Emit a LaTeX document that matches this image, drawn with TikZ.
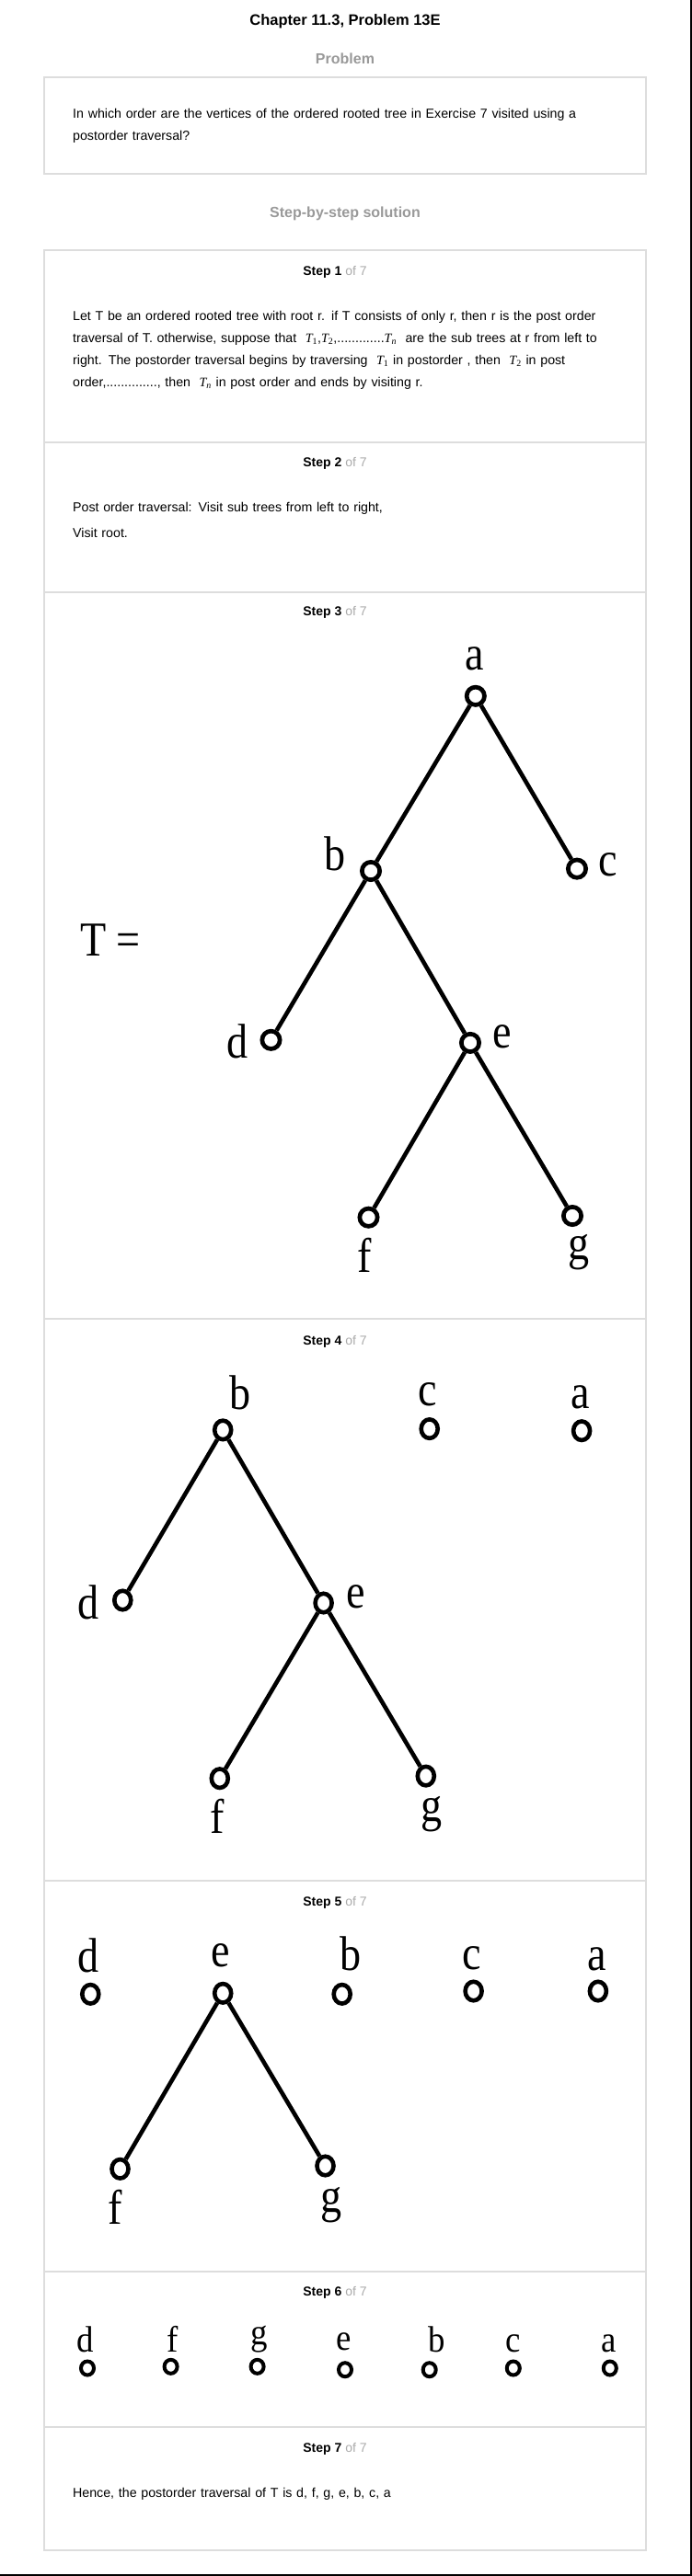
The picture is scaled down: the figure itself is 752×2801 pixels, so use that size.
\documentclass[tikz,border=0pt]{standalone}
\usepackage{fontspec}
\setmainfont{Liberation Sans}
\newfontfamily\timesrm{Liberation Serif}
\newfontfamily\treefont[FakeStretch=0.87]{Liberation Serif}
\newfontfamily\smalltree[FakeStretch=0.92]{Liberation Serif}
\usetikzlibrary{shapes.geometric}
\definecolor{boxgray}{HTML}{DDDDDD}
\definecolor{headgray}{HTML}{999999}
\definecolor{ofgray}{HTML}{AAAAAA}
\newcommand{\stepof}[1]{\textbf{Step #1} \textcolor{ofgray}{of 7}}
\newcommand{\Tsub}[1]{{\timesrm\itshape T}\textsubscript{\timesrm #1}}
\begin{document}
\begin{tikzpicture}[x=1pt,y=-1pt,
  panel/.style={draw=boxgray,line width=1.2pt},
  head/.style={anchor=base,inner sep=0,font=\bfseries\fontsize{16.5}{20}\selectfont},
  subhead/.style={anchor=base,inner sep=0,text=headgray,font=\bfseries\fontsize{16}{20}\selectfont},
  steplbl/.style={anchor=base,inner sep=0,font=\fontsize{14}{16}\selectfont},
  body/.style={anchor=base west,inner sep=0,text width=640pt,align=left,font=\fontsize{14.2}{24}\selectfont},
  vtx/.style={circle,draw,line width=4.7pt,minimum size=19.3pt,inner sep=0},
  ovx/.style={ellipse,draw,line width=4.6pt,minimum width=18pt,minimum height=20.5pt,inner sep=0},
  leaf/.style={ellipse,draw,line width=4pt,minimum width=14pt,minimum height=15pt,inner sep=0},
  branch/.style={line width=4.6pt},
  big/.style={inner sep=0,font=\treefont\fontsize{53}{53}\selectfont},
  small/.style={inner sep=0,font=\smalltree\fontsize{40}{40}\selectfont}]
\useasboundingbox (0,0) rectangle (752,2801);

\node[head] (title) at (375,27.3) {Chapter 11.3, Problem 13E};
\node[subhead] (prob) at (375,69) {Problem};
\draw[panel] (48,84) rectangle (702,189);
\node[body] (qtext) at (79,128.3) {In which order are the vertices of the ordered rooted tree in Exercise 7 visited using a\\postorder traversal?};
\node[subhead] (sol) at (375,236) {Step-by-step solution};

\draw[panel] (48,272) rectangle (702,2773);
\draw[panel] (48,481) -- (702,481);
\draw[panel] (48,644) -- (702,644);
\draw[panel] (48,1434) -- (702,1434);
\draw[panel] (48,2045) -- (702,2045);
\draw[panel] (48,2470) -- (702,2470);
\draw[panel] (48,2639) -- (702,2639);

\node[steplbl] (st1) at (364,299.3) {\stepof{1}};
\node[body] (t1) at (79,348.3) {Let T be an ordered rooted tree with root r. if T consists of only r, then r is the post order\\traversal of T. otherwise, suppose that \ \Tsub{1},\Tsub{2},.............\Tsub{\itshape n} \ are the sub trees at r from left to\\right. The postorder traversal begins by traversing \ \Tsub{1} in postorder , then \ \Tsub{2} in post\\order,.............., then \ \Tsub{\itshape n} in post order and ends by visiting r.};

\node[steplbl] (st2) at (364,507.3) {\stepof{2}};
\node[body,font=\fontsize{14.2}{28.3}\selectfont] (t2) at (79,556) {Post order traversal: Visit sub trees from left to right,\\Visit root.};

\node[steplbl] (st3) at (364,669) {\stepof{3}};
\node[big] (teq) at (120,1022) {T =};
\node[vtx] (a3) at (516.8,756.8) {};
\node[vtx] (b3) at (403,947) {};
\node[vtx] (c3) at (627,944.6) {};
\node[vtx] (d3) at (294.5,1130.8) {};
\node[vtx] (e3) at (511,1133.9) {};
\node[vtx] (f3) at (400.5,1323.7) {};
\node[vtx] (g3) at (622,1322) {};
\node[big] (la3) at (515.4,716.5) {a};
\node[big] (lb3) at (364.5,928.3) {b};
\node[big] (lc3) at (661,940) {c};
\node[big] (ld3) at (258,1132.3) {d};
\node[big] (le3) at (545.7,1127) {e};
\node[big] (lf3) at (395.7,1364.5) {f};
\node[big] (lg3) at (629,1362) {g};
\draw[branch] (a3) -- (b3);
\draw[branch] (a3) -- (c3);
\draw[branch] (b3) -- (d3);
\draw[branch] (b3) -- (e3);
\draw[branch] (e3) -- (f3);
\draw[branch] (e3) -- (g3);

\node[steplbl] (st4) at (364,1462.3) {\stepof{4}};
\node[ovx] (b4) at (242.2,1554.9) {};
\node[ovx] (c4) at (466.7,1553.6) {};
\node[ovx] (a4) at (632.1,1555.7) {};
\node[ovx] (d4) at (133.3,1740) {};
\node[ovx] (e4) at (351.6,1743) {};
\node[ovx] (f4) at (238.8,1933.7) {};
\node[ovx] (g4) at (462.8,1931.1) {};
\node[big] (lb4) at (260.7,1514.3) {b};
\node[big] (lc4) at (465,1516.4) {c};
\node[big] (la4) at (630.7,1519.3) {a};
\node[big] (ld4) at (96.5,1742.2) {d};
\node[big] (le4) at (386.3,1736.3) {e};
\node[big] (lf4) at (236,1975) {f};
\node[big] (lg4) at (468.8,1973) {g};
\draw[branch] (b4) -- (d4);
\draw[branch] (b4) -- (e4);
\draw[branch] (e4) -- (f4);
\draw[branch] (e4) -- (g4);

\node[steplbl] (st5) at (364,2072.7) {\stepof{5}};
\node[ovx] (d5) at (98.3,2168.3) {};
\node[ovx] (e5) at (242.2,2167.3) {};
\node[ovx] (b5) at (371.7,2168.3) {};
\node[ovx] (c5) at (514.6,2165) {};
\node[ovx] (a5) at (649.9,2165) {};
\node[ovx] (f5) at (130.5,2358.3) {};
\node[ovx] (g5) at (353.5,2355) {};
\node[big] (ld5) at (96.5,2126.7) {d};
\node[big] (le5) at (240,2126.3) {e};
\node[big] (lb5) at (381.3,2124.3) {b};
\node[big] (lc5) at (513,2129.5) {c};
\node[big] (la5) at (648.7,2130) {a};
\node[big] (lf5) at (125.4,2399.5) {f};
\node[big] (lg5) at (360.4,2397.2) {g};
\draw[branch] (e5) -- (f5);
\draw[branch] (e5) -- (g5);

\node[steplbl] (st6) at (364,2496.7) {\stepof{6}};
\node[leaf] (d6) at (95,2575) {};
\node[leaf] (f6) at (185.6,2573.3) {};
\node[leaf] (g6) at (279.6,2573.3) {};
\node[leaf] (e6) at (375,2576.7) {};
\node[leaf] (b6) at (466.7,2576.7) {};
\node[leaf] (c6) at (557.8,2575) {};
\node[leaf] (a6) at (662.8,2575) {};
\node[small] (ld6) at (92.8,2543.7) {d};
\node[small] (lf6) at (187.5,2543.3) {f};
\node[small] (lg6) at (281.3,2543.3) {g};
\node[small] (le6) at (373.4,2545.8) {e};
\node[small] (lb6) at (474.3,2543.3) {b};
\node[small] (lc6) at (557.6,2547.8) {c};
\node[small] (la6) at (661.9,2547.8) {a};

\node[steplbl] (st7) at (364,2666.7) {\stepof{7}};
\node[body] (t7) at (79,2715) {Hence, the postorder traversal of T is d, f, g, e, b, c, a};

\draw[line width=2pt] (751,0) -- (751,2801);
\draw[line width=2pt] (0,2800) -- (752,2800);
\end{tikzpicture}
\end{document}
